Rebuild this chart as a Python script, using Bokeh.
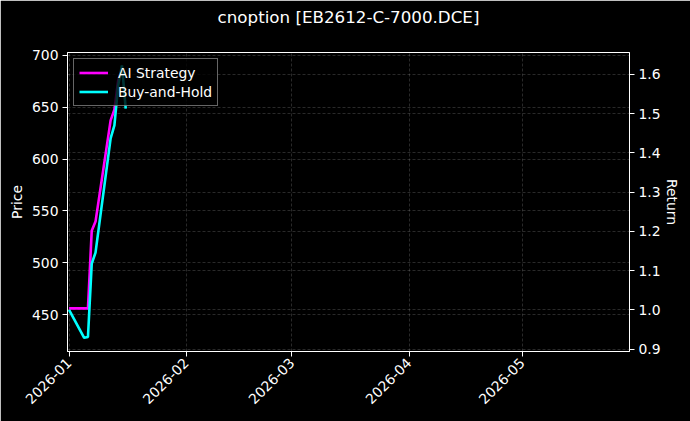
import math
import pandas as pd
from bokeh.plotting import figure
from bokeh.models import (Range1d, LinearAxis, FixedTicker, PrintfTickFormatter,
                          DatetimeTickFormatter, Grid, Title)
from bokeh.embed import file_html
from bokeh.resources import INLINE

# ---------------- data ----------------
title_text = "cnoption [EB2612-C-7000.DCE]"
dates = ["2026-01-01", "2026-01-05", "2026-01-06", "2026-01-07", "2026-01-08",
         "2026-01-12", "2026-01-13", "2026-01-14", "2026-01-15", "2026-01-16"]
ai_strategy = [1.004, 1.004, 1.004, 1.202, 1.225, 1.483, 1.510, 1.585, 1.615, None]
buy_and_hold = [1.000, 0.929, 0.931, 1.118, 1.146, 1.437, 1.470, 1.572, 1.623, 1.513]
x_tick_labels = ["2026-01", "2026-02", "2026-03", "2026-04", "2026-05"]
price_ticks = [450, 500, 550, 600, 650, 700]
return_ticks = [0.9, 1.0, 1.1, 1.2, 1.3, 1.4, 1.5, 1.6]
x_limits = ["2025-12-31 14:00", "2026-05-29 09:00"]
price_limits = [414.6, 702.7]
return_limits = [0.894, 1.656]

# ---------------- figure ----------------
x_dt = pd.to_datetime(dates)
ai_x = [d for d, v in zip(x_dt, ai_strategy) if v is not None]
ai_y = [v for v in ai_strategy if v is not None]
xl = pd.to_datetime(x_limits)
tick_ms = [pd.Timestamp(t + "-01").value / 1e6 for t in x_tick_labels]

FONT = "DejaVu Sans"
W, H = 690, 421
p = figure(width=W, height=H, x_axis_type="datetime",
           x_range=Range1d(xl[0], xl[1]),
           y_range=Range1d(price_limits[0], price_limits[1]),
           output_backend="svg", toolbar_location=None,
           min_border_left=67, min_border_right=61, min_border_top=52,
           min_border_bottom=70)
p.extra_y_ranges = {"ret": Range1d(return_limits[0], return_limits[1])}

p.background_fill_color = "black"
p.border_fill_color = "black"
p.outline_line_color = "white"
p.outline_line_width = 1

# spacer between frame and title, then the title itself (stacked outward)
p.add_layout(Title(text=" ", text_font_size="20px", standoff=2), "above")
p.add_layout(Title(text=title_text, align="center", text_font=FONT,
                   text_font_size="16.7px", text_font_style="normal",
                   text_color="white", standoff=0), "above")

def style_axis(ax, label_standoff=6):
    ax.axis_line_color = "white"
    ax.major_tick_line_color = "white"
    ax.major_tick_out = 5
    ax.major_tick_in = 0
    ax.minor_tick_line_color = None
    ax.major_label_text_color = "white"
    ax.major_label_text_font = FONT
    ax.major_label_text_font_size = "13.9px"
    ax.major_label_standoff = 4
    ax.axis_label_text_color = "white"
    ax.axis_label_text_font = FONT
    ax.axis_label_text_font_size = "13.9px"
    ax.axis_label_text_font_style = "normal"
    ax.axis_label_standoff = label_standoff

xax = p.xaxis[0]
xax.ticker = FixedTicker(ticks=tick_ms)
fmt = "%Y-%m"
xax.formatter = DatetimeTickFormatter(microseconds=fmt, milliseconds=fmt, seconds=fmt,
                                      minsec=fmt, minutes=fmt, hourmin=fmt, hours=fmt,
                                      days=fmt, months=fmt, years=fmt)
xax.major_label_orientation = math.pi / 4
style_axis(xax)

yax = p.yaxis[0]
yax.ticker = FixedTicker(ticks=price_ticks)
yax.formatter = PrintfTickFormatter(format="%d")
yax.axis_label = "Price"
style_axis(yax, 4)

rax = LinearAxis(y_range_name="ret", axis_label="Return",
                 ticker=FixedTicker(ticks=return_ticks),
                 formatter=PrintfTickFormatter(format="%.1f"))
style_axis(rax, 0)
p.add_layout(rax, "right")

for g in (p.xgrid[0], p.ygrid[0]):
    g.grid_line_color = "#9a9a9a"
    g.grid_line_alpha = 0.45
    g.grid_line_width = 0.6
    g.grid_line_dash = "3 2"
p.xgrid[0].ticker = xax.ticker
p.ygrid[0].ticker = yax.ticker
rgrid = Grid(dimension=1, ticker=rax.ticker, y_range_name="ret",
             grid_line_color="#9a9a9a", grid_line_alpha=0.45,
             grid_line_width=0.6, grid_line_dash="3 2")
p.add_layout(rgrid)

p.line(ai_x, ai_y, y_range_name="ret", line_color="#ff00ff", line_width=2.6,
       legend_label="AI Strategy")
p.line(x_dt, buy_and_hold, y_range_name="ret", line_color="#00ffff", line_width=2.6,
       legend_label="Buy-and-Hold")

lg = p.legend[0]
lg.location = "top_left"
lg.margin = 6
lg.padding = 5
lg.spacing = 2
lg.glyph_width = 29
lg.glyph_height = 17
lg.label_height = 17
lg.label_standoff = 10
lg.label_text_color = "white"
lg.label_text_font = FONT
lg.label_text_font_size = "13.9px"
lg.background_fill_color = "black"
lg.background_fill_alpha = 0.8
lg.border_line_color = "#cccccc"
lg.border_line_width = 1

html = file_html(p, INLINE)
html = html.replace("<body>", '<body style="background-color: black;">', 1)
open("out.html", "w").write(html)
